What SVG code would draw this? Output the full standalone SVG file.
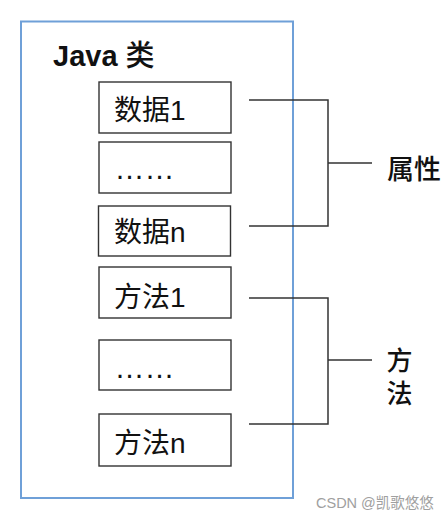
<svg xmlns="http://www.w3.org/2000/svg" width="447" height="520" viewBox="0 0 447 520">
<style>
.box{fill:#fff;stroke:#333;stroke-width:1.4}
.t{font-family:"Liberation Sans","Noto Sans CJK SC",sans-serif;font-size:28px;fill:#111}
.dots{font-family:"Liberation Sans",sans-serif;font-size:30px;fill:#111}
.lbl{font-family:"Noto Sans CJK SC",sans-serif;font-size:27px;font-weight:500;fill:#111}
.conn{fill:none;stroke:#333;stroke-width:1.5}
</style>
<rect width="447" height="520" fill="#fff"/>
<g id="class">
<rect x="21" y="21.5" width="272" height="476.5" fill="none" stroke="#6fa0d8" stroke-width="2"/>
<text x="53" y="66" font-family="Liberation Sans,Noto Sans CJK SC,sans-serif" font-size="29" fill="#111"><tspan font-weight="bold">Java</tspan> <tspan font-family="Noto Sans CJK SC,sans-serif" font-weight="500">类</tspan></text>
</g>
<g id="data1"><rect class="box" x="99" y="82" width="132" height="51"/><text class="t" x="114" y="120">数据1</text></g>
<g id="data-more"><rect class="box" x="99" y="142" width="132" height="51"/><text class="dots" x="114.5" y="179">……</text></g>
<g id="datan"><rect class="box" x="98.5" y="206" width="132" height="50"/><text class="t" x="114" y="242">数据n</text></g>
<g id="method1"><rect class="box" x="99" y="267" width="132" height="51"/><text class="t" x="114" y="307">方法1</text></g>
<g id="method-more"><rect class="box" x="99" y="340" width="132" height="50"/><text class="dots" x="114.5" y="378">……</text></g>
<g id="methodn"><rect class="box" x="99" y="414" width="132" height="52"/><text class="t" x="114" y="453">方法n</text></g>
<g id="connectors">
<path class="conn" d="M249 100H328V226H249M328 163H372"/>
<path class="conn" d="M249 298H328V424H249M328 360H372"/>
</g>
<g id="attr-label"><text class="lbl" x="387" y="179">属性</text></g>
<g id="method-label"><text class="lbl" x="399.5" y="347" style="writing-mode:vertical-rl;font-size:26px;letter-spacing:7px">方法</text></g>
<text x="316" y="508" font-family="Liberation Sans,Noto Sans CJK SC,sans-serif" font-size="14.5" fill="#a0a0a0">CSDN @凯歌悠悠</text>
</svg>
